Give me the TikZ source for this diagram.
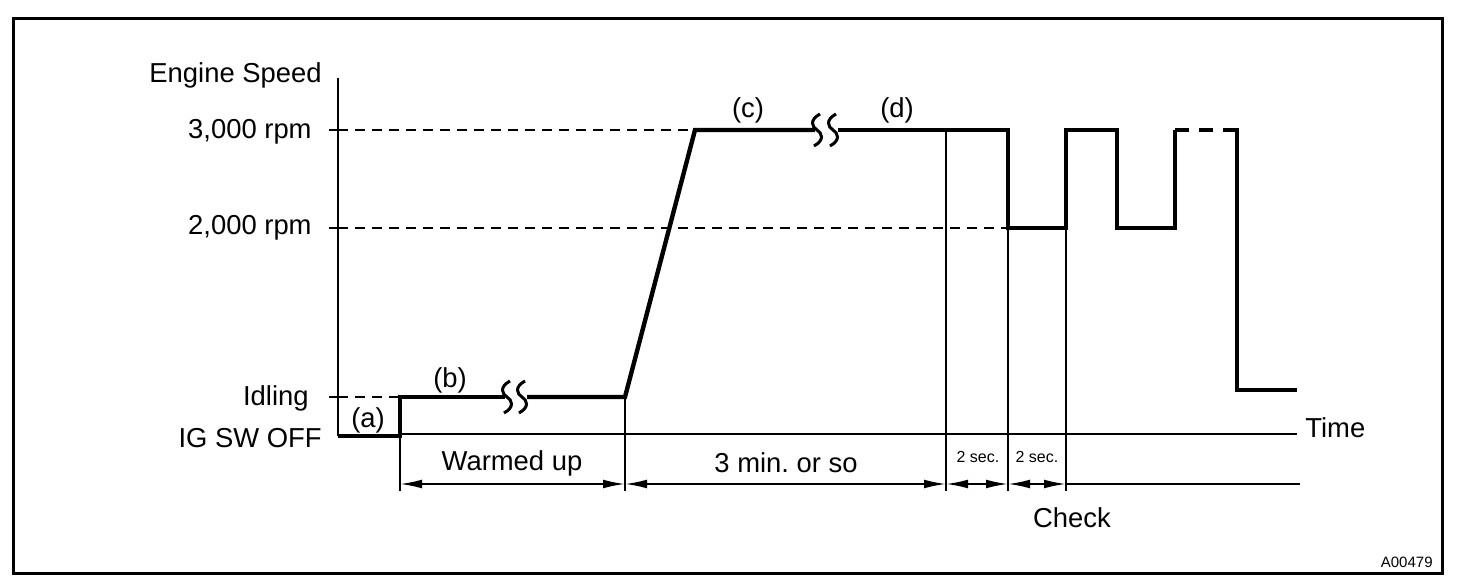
\documentclass[tikz,border=0pt]{standalone}
\usepackage{fontspec}
\setmainfont{Liberation Sans}
\usetikzlibrary{arrows.meta}
\frenchspacing

\tikzset{
  trace/.style={line width=2.2pt, line join=miter},
  guide/.style={line width=0.7pt, dash pattern=on 5pt off 3.5pt},
  extline/.style={line width=0.75pt},
  dimline/.style={line width=0.9pt, {Latex[length=11pt,width=4.4pt]}-{Latex[length=11pt,width=4.4pt]}},
  lbl/.style={font=\fontsize{13.7}{16}\selectfont, inner sep=0pt},
  tinylbl/.style={font=\fontsize{8}{10}\selectfont, inner sep=0pt},
  brk/.pic={
    \draw[line width=1.5pt] (3,-16) .. controls (-8,-10) and (-5,-3) .. (0,0)
                         .. controls (5,3) and (8,10) .. (-3,16);
  }
}

\begin{document}
\begin{tikzpicture}[x=0.5pt,y=-0.5pt]
  \useasboundingbox (0,0) rectangle (1472,588);
  \draw[line width=1.5pt] (13,19) rectangle (1442,573);

  % axis labels
  \node[lbl,anchor=east] (speed) at (322,75) {Engine Speed};
  \node[lbl,anchor=east] (rpmhi) at (312,132) {3,000 rpm};
  \node[lbl,anchor=east] (rpmlo) at (312,228) {2,000 rpm};
  \node[lbl,anchor=east] (idle) at (309,398) {Idling};
  \node[lbl,anchor=east] (igoff) at (322,438) {IG SW OFF};
  \node[lbl,anchor=west] (time) at (1305,428) {Time};

  % axes
  \draw[line width=1pt] (338,78) -- (338,436);
  \foreach \y in {130,228,397}
    \draw[line width=1pt] (329,\y) -- (338,\y);
  \draw[line width=1.2pt] (400,434) -- (1297,434);

  % guides
  \draw[guide] (338,130) -- (695,130);
  \draw[guide] (338,228) -- (1008,228);
  \draw[guide] (338,397) -- (400,397);

  % extension lines
  \coordinate (t0) at (400,484);
  \coordinate (t1) at (625,484);
  \coordinate (t2) at (946,484);
  \coordinate (t3) at (1008,484);
  \coordinate (t4) at (1066,484);
  \coordinate (tend) at (1300,484);
  \draw[extline] (400,436) -- (400,491);
  \draw[extline] (625,397) -- (625,491);
  \draw[extline] (946,130) -- (946,491);
  \draw[extline] (1008,228) -- (1008,491);
  \draw[extline] (1066,228) -- (1066,491);

  % speed trace
  \draw[trace] (338,436) -- (400,436) -- (400,397) -- (505,397);
  \draw[trace] (527,397) -- (625,397) -- (695,130) -- (815,130);
  \draw[trace] (838,130) -- (1008,130) -- (1008,228) -- (1066,228)
    -- (1066,130) -- (1117,130) -- (1117,228) -- (1175,228) -- (1175,130);
  \draw[trace,dash pattern=on 7pt off 5pt] (1175,130) -- (1237,130);
  \draw[trace] (1237,128) -- (1237,390) -- (1297,390);
  \pic at (507,397) {brk};
  \pic at (522,397) {brk};
  \pic at (817,130) {brk};
  \pic at (833,130) {brk};

  % phase labels
  \node[lbl] (pa) at (368,420) {(a)};
  \node[lbl] (pb) at (450,380) {(b)};
  \node[lbl] (pc) at (748,110) {(c)};
  \node[lbl] (pd) at (897,110) {(d)};

  % durations
  \draw[dimline] (t0) -- (t1);
  \draw[dimline] (t1) -- (t2);
  \draw[dimline] (t2) -- (t3);
  \draw[dimline] (t3) -- (t4);
  \draw[line width=0.9pt] (t4) -- (tend);
  \node[lbl] (warm) at (512,463) {Warmed up};
  \node[lbl] (three) at (786,463) {3 min. or so};
  \node[tinylbl] (twoa) at (978,457) {2 sec.};
  \node[tinylbl] (twob) at (1037,457) {2 sec.};
  \node[lbl] (check) at (1072,518) {Check};

  \node[font=\fontsize{7.5}{9}\selectfont,inner sep=0pt,anchor=east] (code) at (1433,562) {A00479};
\end{tikzpicture}
\end{document}
